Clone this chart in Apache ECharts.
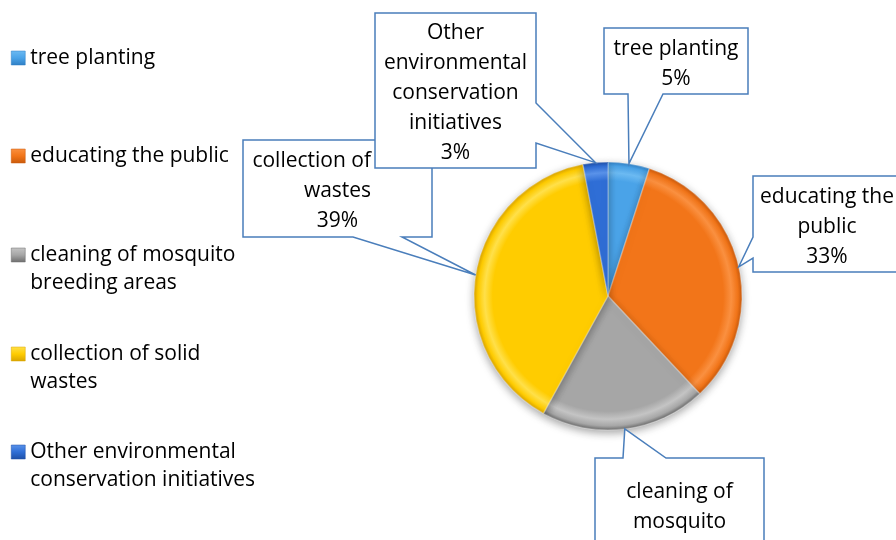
<!DOCTYPE html>
<html>
<head>
<meta charset="utf-8">
<script src="https://cdn.jsdelivr.net/npm/echarts@6/dist/echarts.min.js"></script>
<style>
  html, body { margin: 0; padding: 0; background: #ffffff; }
  #chart { width: 896px; height: 540px; }
</style>
</head>
<body>
<div id="chart"></div>
<script>
// Share of activities (percent)
const categories = [
  'tree planting',
  'educating the public',
  'cleaning of mosquito breeding areas',
  'collection of solid wastes',
  'Other environmental conservation initiatives'
];
const values = [5, 33, 20, 39, 3];

// Wrapped wording used by the legend and by the callouts
const legendNames = [
  'tree planting',
  'educating the public',
  'cleaning of mosquito\nbreeding areas',
  'collection of solid\nwastes',
  'Other environmental\nconservation initiatives'
];
const calloutNames = [
  'tree planting',
  'educating the\npublic',
  'cleaning of\nmosquito\nbreeding areas',
  'collection of solid\nwastes',
  'Other\nenvironmental\nconservation\ninitiatives'
];

const FONT = '"Open Sans", Lato, "Liberation Sans", sans-serif';
const FONT_SIZE = 21;

const CX = 608, CY = 296, R = 134;

// slice colours: [light, base, rim]
const palette = [
  ['#6CBAF2', '#4AA3E8', '#2F7FC4'],
  ['#FA9040', '#F27519', '#C95A0C'],
  ['#C4C4C4', '#A6A6A6', '#6E6E6E'],
  ['#FFE04A', '#FFCC00', '#D9A400'],
  ['#5A93EA', '#2F6ED6', '#1E4FA6']
];

// bevelled look: flat face, a lighter band near the rim, then a darker edge
function sliceFill(c) {
  return {
    type: 'radial', x: CX, y: CY, r: R, global: true,
    colorStops: [
      { offset: 0, color: c[1] },
      { offset: 0.86, color: c[1] },
      { offset: 0.92, color: c[0] },
      { offset: 0.97, color: c[1] },
      { offset: 1, color: c[2] }
    ]
  };
}
function iconFill(c) {
  return {
    type: 'linear', x: 0, y: 0, x2: 0, y2: 1,
    colorStops: [
      { offset: 0, color: c[0] },
      { offset: 0.5, color: c[1] },
      { offset: 1, color: c[2] }
    ]
  };
}

// legend entries, one block per category; the icon sits on the first text line
const legendTops = [44, 142, 213, 312, 410];
const legends = categories.map(function (name, i) {
  return {
    orient: 'vertical',
    left: 11,
    top: legendTops[i],
    padding: 0,
    itemGap: 0,
    itemWidth: 14,
    itemHeight: 14,
    icon: 'rect',
    selectedMode: false,
    data: [{ name: name, itemStyle: { color: iconFill(palette[i]), borderColor: palette[i][2], borderWidth: 0.5 } }],
    formatter: function (n) {
      const t = legendNames[categories.indexOf(n)];
      return t.indexOf('\n') >= 0 ? '\n' + t : t;
    },
    textStyle: { fontFamily: FONT, fontSize: FONT_SIZE, lineHeight: 28, color: '#000000' }
  };
});

const chart = echarts.init(document.getElementById('chart'), null, { renderer: 'canvas' });

chart.setOption({
  animation: false,
  backgroundColor: '#ffffff',
  legend: legends,
  series: [{
    type: 'pie',
    center: [CX, CY],
    radius: R,
    startAngle: 90,
    clockwise: true,
    silent: true,
    label: { show: false },
    labelLine: { show: false },
    itemStyle: {
      borderColor: 'rgba(255,255,255,0.28)',
      borderWidth: 1.5,
      shadowBlur: 8,
      shadowOffsetY: 3,
      shadowColor: 'rgba(0,0,0,0.35)'
    },
    data: categories.map(function (name, i) {
      return { name: name, value: values[i], itemStyle: { color: sliceFill(palette[i]) } };
    })
  }]
});

// callout boxes: [x, y, w, h], the edge the pointer leaves from, and where it leaves
const callouts = [
  { box: [604, 28, 144, 66], side: 'bottom', base: [628, 663] },
  { box: [753, 176, 148, 96], side: 'left', base: [237, 258] },
  { box: [595, 458, 169, 152], side: 'top', base: [623, 666] },
  { box: [243, 140, 189, 97], side: 'bottom', base: [353, 402] },
  { box: [375, 13, 161, 155], side: 'right', base: [103, 143] }
];
const TEXT_DY = 3;

function calloutShape(c, tip) {
  const x = c.box[0], y = c.box[1], w = c.box[2], h = c.box[3];
  const b1 = c.base[0], b2 = c.base[1];
  switch (c.side) {
    case 'top':
      return [[x, y], [b1, y], tip, [b2, y], [x + w, y], [x + w, y + h], [x, y + h]];
    case 'right':
      return [[x, y], [x + w, y], [x + w, b1], tip, [x + w, b2], [x + w, y + h], [x, y + h]];
    case 'left':
      return [[x, y], [x + w, y], [x + w, y + h], [x, y + h], [x, b2], tip, [x, b1]];
    default:
      return [[x, y], [x + w, y], [x + w, y + h], [b2, y + h], tip, [b1, y + h], [x, y + h]];
  }
}

// pointer tips sit on the rim of each slice, at its middle angle
const pieData = chart.getModel().getSeriesByIndex(0).getData();
const graphics = callouts.map(function (c, i) {
  const lay = pieData.getItemLayout(i);
  const mid = (lay.startAngle + lay.endAngle) / 2;
  const tip = [lay.cx + lay.r * Math.cos(mid), lay.cy + lay.r * Math.sin(mid)];
  return {
    type: 'group',
    z: 100 + i,
    silent: true,
    children: [
      {
        type: 'polygon',
        z: 100 + i,
        shape: { points: calloutShape(c, tip) },
        style: { fill: '#ffffff', stroke: '#4A7EBB', lineWidth: 1.5 }
      },
      {
        type: 'text',
        z: 100 + i,
        style: {
          x: c.box[0] + c.box[2] / 2,
          y: c.box[1] + c.box[3] / 2 + TEXT_DY,
          text: calloutNames[i] + '\n' + values[i] + '%',
          align: 'center',
          verticalAlign: 'middle',
          fontFamily: FONT,
          fontSize: FONT_SIZE,
          lineHeight: 30,
          fill: '#000000'
        }
      }
    ]
  };
});

chart.setOption({ graphic: graphics });
</script>
</body>
</html>
